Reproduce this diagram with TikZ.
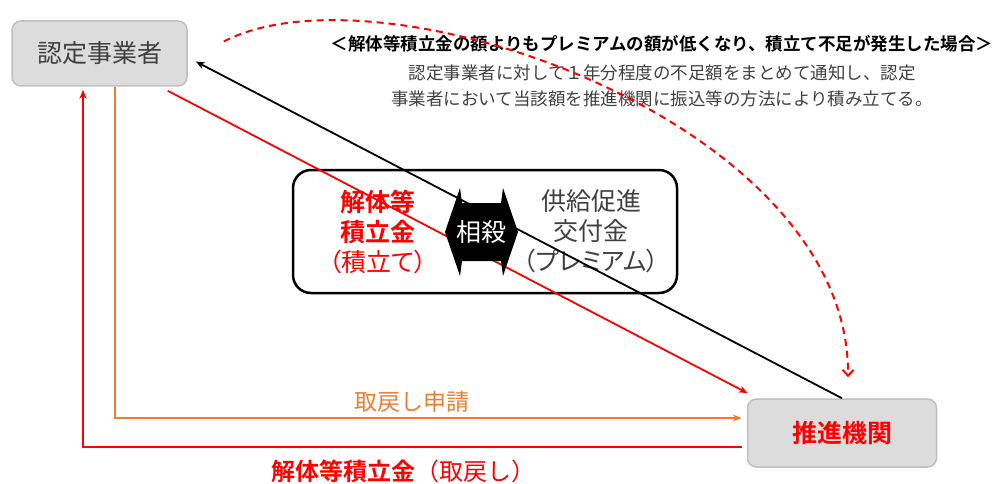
\documentclass[tikz,border=0pt]{standalone}
\usepackage{fontspec}
\setmainfont{Noto Sans CJK JP}[BoldFont={Noto Sans CJK JP Bold}]
\newfontfamily\propfont{Noto Sans CJK JP}[RawFeature=+palt]
\usetikzlibrary{arrows.meta}
\definecolor{boxgray}{HTML}{DCDCDC}
\definecolor{boxline}{HTML}{BFBFBF}
\definecolor{textgray}{HTML}{404040}
\definecolor{accent}{HTML}{ED7D31}
\tikzstyle{party} = [rectangle, rounded corners=9pt, draw=boxline, line width=1.5pt, fill=boxgray, font=\fontsize{25}{30}\selectfont]
\tikzstyle{big} = [font=\fontsize{25}{30}\selectfont, align=center]
\tikzstyle{flow} = [line width=1.8pt, -{Stealth[length=9pt,width=7pt]}]

\begin{document}
\begin{tikzpicture}[x=1pt, y=-1pt]
    \useasboundingbox (0,0) rectangle (998,484);

    % Nodes
    \node (jigyosha) [party, minimum width=175pt, minimum height=65pt, text=textgray] at (99.5,53.5) {認定事業者};
    \node (suishin) [party, minimum width=189pt, minimum height=68pt, text=red, font=\fontsize{25}{30}\selectfont\bfseries] at (842,433) {推進機関};
    \node (note) [align=center, text=textgray, font=\fontsize{17.5}{26}\selectfont] at (662,71) {\textcolor{black}{\textbf{＜解体等積立金の額よりもプレミアムの額が低くなり、積立て不足が発生した場合＞}}\\[3pt]認定事業者に対して１年分程度の不足額をまとめて通知し、認定\\事業者において当該額を推進機関に振込等の方法により積み立てる。};

    % Offset box
    \node (offsetbox) [draw, line width=2.5pt, rounded corners=18pt, minimum width=384pt, minimum height=123pt] at (485,231.5) {};
    \node (reserve) [big, text=red] at (378,232) {\textbf{解体等}\\\textbf{積立金}\\{\propfont （積立て）}};
    \node (premium) [big, text=textgray] at (591,231) {供給促進\\交付金\\{\propfont （プレミアム）}};

    % Labels
    \node (reqlabel) [text=accent, font=\fontsize{23}{28}\selectfont] at (412,402) {取戻し申請};
    \node (backlabel) [text=red, font=\fontsize{24}{28}\selectfont] at (403,471) {\textbf{解体等積立金}（取戻し）};

    % Arrows
    \draw [flow, red] ([shift={(-20,4)}]jigyosha.south east) -- ([shift={(1,-5)}]suishin.north west);
    \draw [flow, black] (suishin.north) -- ([shift={(8,8)}]jigyosha.east);
    \draw [flow, accent] ([shift={(15.5,0)}]jigyosha.south) |- ([shift={(-5,-15)}]suishin.west);
    \draw [flow, red] ([shift={(-5,14)}]suishin.west) -| ([shift={(-16.5,3)}]jigyosha.south);
    \draw [red, line width=2pt, dash pattern=on 7pt off 5pt, -{Straight Barb[length=6pt,width=11pt]}] ([shift={(36,-12)}]jigyosha.east) .. controls (380,-40) and (850,120) .. ([shift={(6,-21)}]suishin.north);

    % Offset sign
    \coordinate (mid) at (481.5,232);
    \fill [black, shift={(mid)}] (-36.5,0) -- (-21.5,-44) -- (-19.5,-29) -- (19.5,-29) -- (21.5,-44) -- (36.5,0) -- (21.5,44) -- (19.5,29) -- (-19.5,29) -- (-21.5,44) -- cycle;
    \node (sousai) [big, text=white] at (mid) {相殺};

\end{tikzpicture}
\end{document}
